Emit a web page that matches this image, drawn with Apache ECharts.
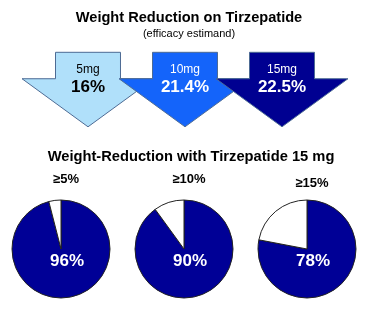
<!DOCTYPE html>
<html>
<head>
<meta charset="utf-8">
<script src="https://cdn.jsdelivr.net/npm/echarts@6/dist/echarts.min.js"></script>
<style>
html,body{margin:0;padding:0;background:#fff;}
#c{width:368px;height:325px;}
</style>
</head>
<body>
<div id="c"></div>
<script>
var doses = ['5mg', '10mg', '15mg'];
var reductions = [16, 21.4, 22.5];
var reductionLabels = ['16%', '21.4%', '22.5%'];
var arrowColors = ['#b0e0fa', '#1464fa', '#000091'];
var arrowTextColors = ['#000000', '#ffffff', '#ffffff'];

var thresholds = ['≥5%', '≥10%', '≥15%'];
var responders = [96, 90, 78];

var FONT = '"Liberation Sans", Arial, sans-serif';
var chart = echarts.init(document.getElementById('c'), null, {renderer: 'canvas'});

var pieCenters = [[61, 249], [184, 249], [307, 249]];
var pieTitleY = [168, 168, 172];

var titles = [
  {text: 'Weight Reduction on Tirzepatide', left: 184, top: 5, textAlign: 'center',
   textStyle: {fontFamily: FONT, fontWeight: 'bold', fontSize: 14.6, color: '#000'}},
  {text: '(efficacy estimand)', left: 184, top: 23, textAlign: 'center',
   textStyle: {fontFamily: FONT, fontWeight: 'normal', fontSize: 11, color: '#000'}},
  {text: 'Weight-Reduction with Tirzepatide 15 mg', left: 186, top: 144, textAlign: 'center',
   textStyle: {fontFamily: FONT, fontWeight: 'bold', fontSize: 14.7, color: '#000'}}
];
thresholds.forEach(function (t, i) {
  titles.push({text: t, left: pieCenters[i][0], top: pieTitleY[i], textAlign: 'center',
    textStyle: {fontFamily: FONT, fontWeight: 'bold', fontSize: 13, color: '#000'}});
});
responders.forEach(function (v, i) {
  titles.push({text: v + '%', left: pieCenters[i][0] + 1, top: pieCenters[i][1] - 1, textAlign: 'center',
    z: 10,
    textStyle: {fontFamily: FONT, fontWeight: 'bold', fontSize: 17, color: '#fff'}});
});

var series = [{
  type: 'custom',
  xAxisIndex: 0, yAxisIndex: 0,
  data: doses.map(function (d, i) { return [i, reductions[i]]; }),
  renderItem: function (params, api) {
    var i = api.value(0);
    var top = api.coord([i, 1]);
    var tip = api.coord([i, 0]);
    var band = api.size([1, 0])[0];
    var cx = top[0];
    var sw = band * 0.335, hw = band * 0.68;
    var ty = top[1], by = tip[1];
    var sy = ty + (by - ty) * 0.355;
    return {
      type: 'group',
      children: [{
        type: 'polygon',
        shape: {points: [[cx - sw, ty], [cx + sw, ty], [cx + sw, sy], [cx + hw, sy], [cx, by], [cx - hw, sy], [cx - sw, sy]]},
        style: {fill: arrowColors[i], stroke: '#4d6b94', lineWidth: 1}
      }, {
        type: 'text',
        style: {text: doses[i], x: cx, y: ty + 17, textAlign: 'center', textVerticalAlign: 'middle',
          font: 'normal 12px ' + FONT, fill: arrowTextColors[i]}
      }, {
        type: 'text',
        style: {text: reductionLabels[i], x: cx, y: ty + 35, textAlign: 'center', textVerticalAlign: 'middle',
          font: 'bold 17px ' + FONT, fill: arrowTextColors[i]}
      }]
    };
  }
}];

responders.forEach(function (v, i) {
  series.push({
    type: 'pie',
    center: pieCenters[i],
    radius: 49,
    startAngle: 90,
    clockwise: true,
    silent: true,
    animation: false,
    label: {show: false},
    labelLine: {show: false},
    itemStyle: {borderColor: '#222', borderWidth: 1},
    data: [
      {value: v, itemStyle: {color: '#000096'}},
      {value: 100 - v, itemStyle: {color: '#fff'}}
    ]
  });
});

chart.setOption({
  animation: false,
  title: titles,
  grid: {left: 39.5, width: 291, top: 52.3, height: 74.5},
  xAxis: {type: 'category', data: doses, show: false},
  yAxis: {type: 'value', min: 0, max: 1, show: false},
  series: series
});
</script>
</body>
</html>
